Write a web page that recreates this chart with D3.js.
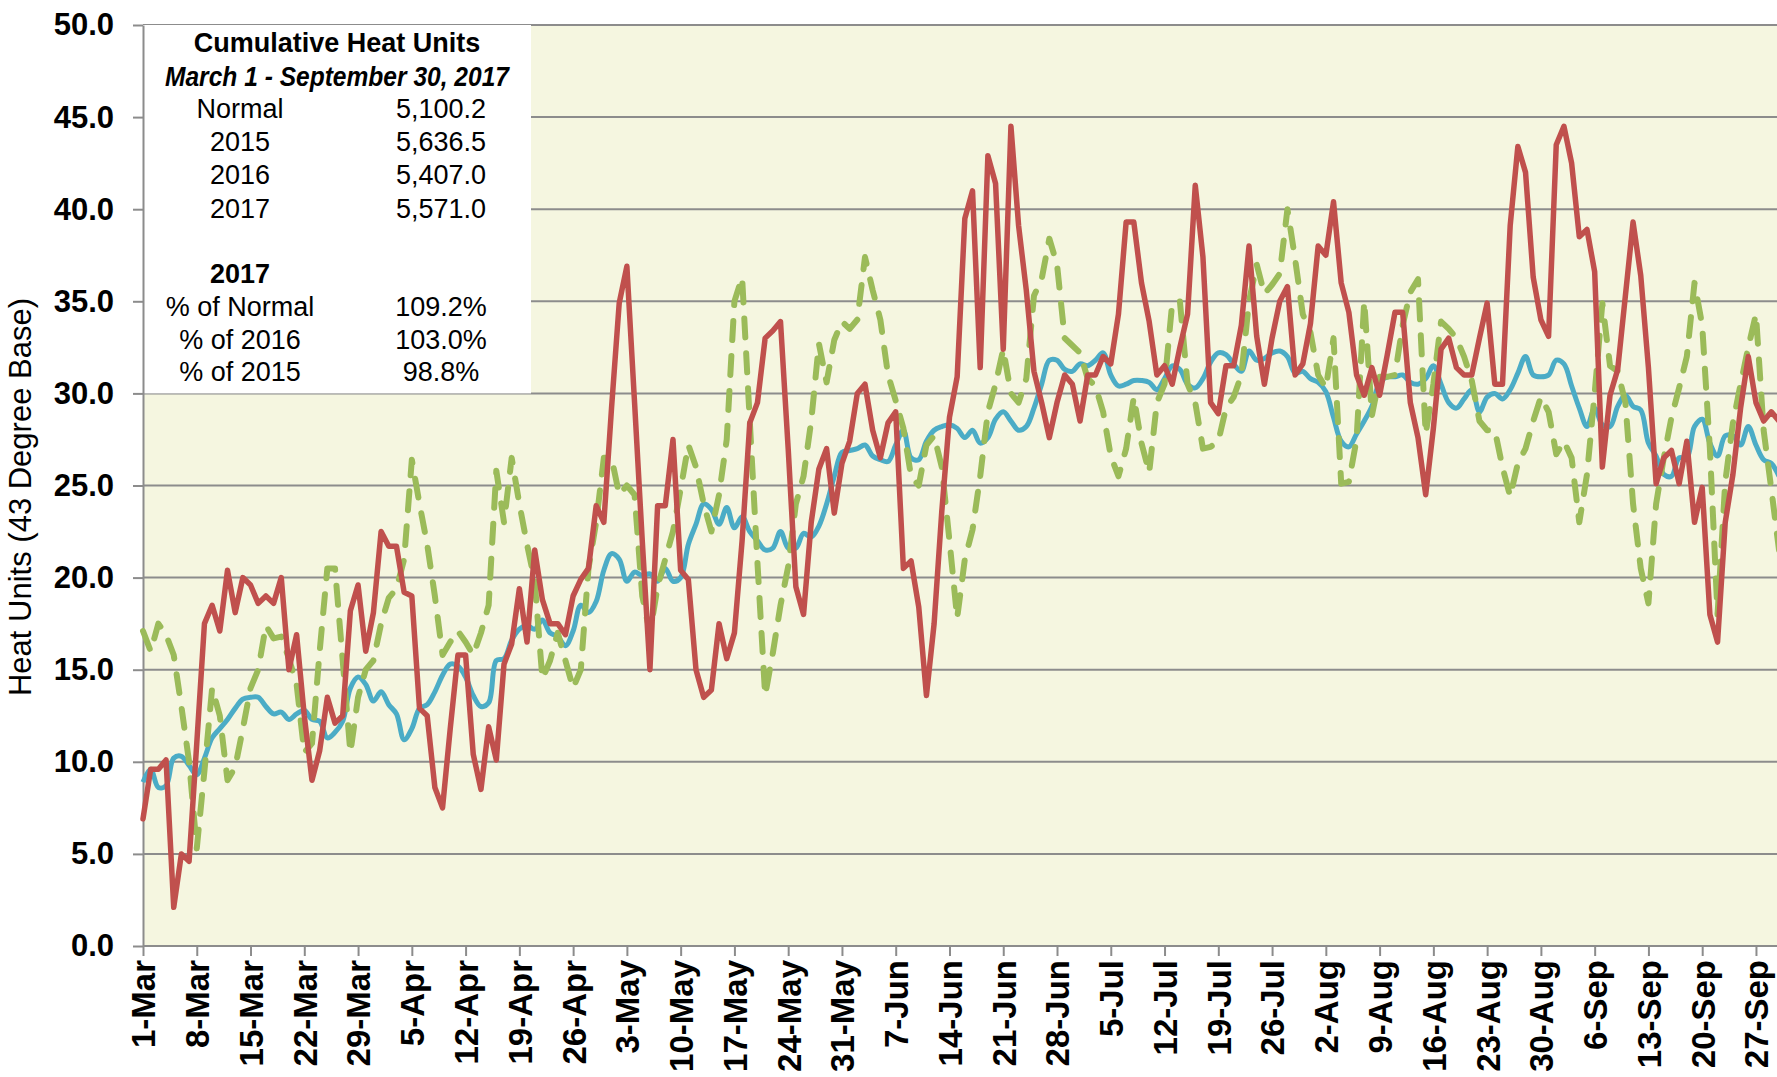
<!DOCTYPE html>
<html>
<head>
<meta charset="utf-8">
<script src="https://cdn.jsdelivr.net/npm/d3@7"></script>
<style>
body {margin:0; background:#fff}
svg {display:block; font-family:"Liberation Sans", Arial, sans-serif}
</style>
</head>
<body>
<svg width="1777" height="1077"></svg>
<script>
/*** Data ***/
var start = new Date(2017, 2, 1)
var end = new Date(2017, 8, 30)
var tickLabels = ["1-Mar","8-Mar","15-Mar","22-Mar","29-Mar","5-Apr","12-Apr","19-Apr","26-Apr","3-May","10-May",
	"17-May","24-May","31-May","7-Jun","14-Jun","21-Jun","28-Jun","5-Jul","12-Jul","19-Jul","26-Jul","2-Aug",
	"9-Aug","16-Aug","23-Aug","30-Aug","6-Sep","13-Sep","20-Sep","27-Sep"]
var yTicks = [0,5,10,15,20,25,30,35,40,45,50]

var normal = [8.9,9.6,8.6,8.7,10.2,10.3,9.8,9.3,10.2,11.3,
	11.8,12.3,12.9,13.4,13.5,13.5,13.0,12.6,12.7,12.3,
	12.6,12.8,12.3,12.2,11.3,11.6,12.2,14.0,14.6,14.2,
	13.3,13.8,13.1,12.6,11.2,11.8,12.9,13.1,13.8,14.7,
	15.3,15.2,14.6,13.6,13.0,13.2,15.5,15.6,16.6,17.2,
	17.4,17.2,17.7,17.0,16.8,16.3,17.1,18.5,18.1,18.7,
	20.4,21.3,21.0,19.8,20.3,20.1,20.2,19.8,20.5,19.8,
	20.0,21.8,22.9,24.0,23.7,22.9,23.8,22.7,23.3,22.5,
	22.0,21.5,21.6,22.5,21.6,21.6,22.4,22.2,22.8,24.0,
	25.5,26.8,26.9,27.0,27.2,26.6,26.4,26.3,27.2,28.0,
	26.5,26.4,27.4,28.0,28.2,28.3,28.1,27.6,28.0,27.3,
	27.6,28.6,29.0,28.5,28.0,28.2,29.2,30.5,31.8,31.8,
	31.3,31.2,31.6,31.5,31.8,32.2,31.0,30.4,30.5,30.7,
	30.7,30.6,30.2,30.8,31.5,31.3,30.5,30.3,30.8,31.7,
	32.2,32.1,31.6,31.2,32.3,31.8,31.9,32.2,32.3,32.0,
	31.1,31.2,30.8,30.6,30.1,28.7,27.4,27.1,27.8,28.5,
	29.3,30.6,30.9,30.9,31.0,30.6,30.5,30.8,31.5,30.5,
	29.5,29.2,29.7,30.2,29.0,29.8,30.0,29.7,30.2,31.1,
	32.0,31.0,30.9,31.0,31.8,31.6,30.4,29.2,28.2,29.2,
	28.3,28.2,29.3,29.9,29.3,29.1,27.3,26.6,25.6,25.5,
	26.5,26.5,28.2,28.6,27.3,26.6,27.7,27.7,27.2,28.2,
	27.2,26.4,26.2,25.5]

var y2016 = [17.1,16.0,17.5,16.9,15.8,13.0,10.0,5.3,9.5,14.0,
	12.5,9.0,9.7,11.8,14.0,15.0,17.4,16.7,16.8,15.6,
	14.2,10.5,11.0,16.0,20.5,20.5,15.5,10.5,13.5,15.0,
	15.5,17.5,18.9,19.4,21.0,26.4,24.0,21.8,19.0,15.8,
	16.5,17.1,16.5,15.8,17.0,18.5,25.8,23.0,26.5,24.0,
	21.8,19.8,14.5,15.5,17.0,15.5,14.0,15.0,20.5,23.0,
	26.5,26.5,24.5,25.0,24.5,19.0,17.0,19.5,21.0,22.5,
	24.8,27.2,26.0,24.0,22.5,24.5,27.5,35.0,36.3,28.5,
	20.8,13.6,15.9,18.5,20.6,24.0,25.5,28.5,32.7,30.6,
	32.9,33.9,33.5,34.0,37.4,35.6,34.0,31.0,29.6,28.1,
	25.5,25.0,27.2,27.7,26.0,22.0,17.8,21.0,22.6,25.5,
	29.0,30.5,32.4,30.0,29.5,30.8,35.3,36.2,38.4,37.0,
	33.0,32.6,32.2,30.8,30.4,29.0,26.6,25.5,27.0,29.8,
	27.3,25.7,29.5,30.5,34.9,35.0,30.5,29.5,27.0,27.1,
	27.4,29.2,29.8,31.0,35.0,37.0,35.4,35.9,36.5,40.0,
	37.3,34.3,33.3,31.0,30.3,33.0,25.1,25.2,27.5,35.0,
	28.8,30.9,30.9,31.0,33.7,35.5,36.2,27.8,30.5,33.9,
	33.5,33.0,32.0,30.7,28.5,28.0,28.0,26.0,24.4,26.2,
	27.0,28.5,29.8,29.0,26.7,27.4,26.5,23.0,25.6,30.0,
	34.9,31.5,31.2,29.5,24.0,20.5,18.6,24.0,26.5,28.7,
	30.3,32.0,36.0,33.7,27.0,18.0,25.2,28.4,30.5,32.5,
	34.3,28.0,24.8,21.5]

var y2017 = [6.9,9.6,9.6,10.1,2.1,5.0,4.6,11.0,17.5,18.5,
	17.1,20.4,18.1,20.0,19.6,18.6,19.0,18.6,20.0,15.0,
	16.9,12.5,9.0,10.6,13.5,12.1,12.5,18.2,19.6,16.0,
	18.1,22.5,21.7,21.7,19.2,19.0,12.9,12.5,8.6,7.5,
	11.8,15.8,15.8,10.4,8.5,11.9,10.1,15.3,16.4,19.4,
	16.5,21.5,18.8,17.5,17.5,16.9,19.0,19.9,20.5,23.9,
	23.0,29.2,34.9,36.9,29.5,22.0,15.0,23.9,23.9,27.5,
	20.4,19.9,15.0,13.5,13.9,17.5,15.6,17.0,22.0,28.4,
	29.5,33.0,33.4,33.9,27.0,19.5,18.0,23.0,25.9,27.0,
	23.5,26.2,27.4,30.0,30.5,28.0,26.5,28.4,29.0,20.5,
	20.9,18.4,13.6,17.5,23.6,28.7,30.9,39.5,41.0,31.4,
	42.9,41.4,32.4,44.5,39.1,35.6,31.2,29.5,27.6,29.5,
	31.0,30.5,28.5,31.0,31.0,32.0,31.6,34.3,39.3,39.3,
	36.0,33.9,31.0,31.5,30.5,32.5,34.3,41.3,37.4,29.5,
	28.9,31.5,31.5,33.7,38.0,33.1,30.5,33.0,35.0,35.8,
	31.0,31.6,33.8,38.0,37.5,40.4,36.0,34.4,31.0,29.9,
	31.4,29.9,32.1,34.4,34.4,29.5,27.6,24.5,28.1,32.4,
	33.0,31.4,31.0,31.0,33.0,34.9,30.5,30.5,39.1,43.4,
	42.0,36.3,34.0,33.1,43.5,44.5,42.5,38.5,38.9,36.6,
	26.0,29.9,31.3,35.3,39.3,36.4,31.4,25.1,26.5,26.9,
	25.1,27.4,23.0,24.9,18.0,16.5,23.0,25.6,29.2,32.0,
	29.5,28.5,29.0,28.5]

var tblTitle = "Cumulative Heat Units"
var tblSub = "March 1 - September 30, 2017"
var tblRows = [["Normal","5,100.2"],["2015","5,636.5"],["2016","5,407.0"],["2017","5,571.0"]]
var pctHead = "2017"
var pctRows = [["% of Normal","109.2%"],["% of 2016","103.0%"],["% of 2015","98.8%"]]

/*** Draw ***/
var m = d3.select("svg")
var W = +m.attr("width")
var L = 143, T = 25, B = 946, R = 1779

var days = d3.timeDay.range(start, d3.timeDay.offset(end, 1))
var tickDates = d3.range(0, days.length, 7).map((i) => days[i])

var x = d3.scaleTime().domain([start, end]).range([L, R])
var y = d3.scaleLinear().domain([0, 50]).range([B, T])

m.append("rect")
 .attr("x", L).attr("y", T)
 .attr("width", R - L).attr("height", B - T)
 .attr("fill", "#f5f6e0")

m.append("g")
 .selectAll("line")
 .data(yTicks.slice(1))
 .enter()
 .append("line")
 .attr("x1", L).attr("x2", W)
 .attr("y1", (d) => y(d)).attr("y2", (d) => y(d))
 .attr("stroke", "#8c8c8c")
 .attr("stroke-width", 2)

// summary table
var t = m.append("g")
t.append("rect")
 .attr("x", L).attr("y", T)
 .attr("width", 531 - L).attr("height", y(30) - T)
 .attr("fill", "#fff")
var c1 = 240, c2 = 441, c0 = 337
t.append("text").text(tblTitle)
 .attr("x", c0).attr("y", 52)
 .attr("font-weight", "bold")
t.append("text").text(tblSub)
 .attr("x", c0).attr("y", 86)
 .attr("font-weight", "bold").attr("font-style", "italic")
 .attr("textLength", 344).attr("lengthAdjust", "spacingAndGlyphs")
tblRows.forEach((r, i) => {
	t.append("text").text(r[0]).attr("x", c1).attr("y", 118 + i * 33.2)
	t.append("text").text(r[1]).attr("x", c2).attr("y", 118 + i * 33.2)
})
t.append("text").text(pctHead)
 .attr("x", c1).attr("y", 283)
 .attr("font-weight", "bold")
pctRows.forEach((r, i) => {
	t.append("text").text(r[0]).attr("x", c1).attr("y", 316 + i * 32.5)
	t.append("text").text(r[1]).attr("x", c2).attr("y", 316 + i * 32.5)
})
t.selectAll("text")
 .attr("text-anchor", "middle")
 .attr("font-size", 27)
 .attr("fill", "#000")

// axes
var ya = m.append("g")
		  .attr("transform", "translate(" + L + ",0)")
		  .call(d3.axisLeft(y).tickValues(yTicks).tickFormat(d3.format(".1f")).tickSize(10).tickSizeOuter(0).tickPadding(19))
var xa = m.append("g")
		  .attr("transform", "translate(0," + B + ")")
		  .call(d3.axisBottom(x).tickValues(tickDates).tickFormat((d, i) => tickLabels[i]).tickSize(10).tickSizeOuter(0))
xa.select(".domain").attr("d", "M" + L + ",0H" + W)
m.selectAll(".domain, .tick line")
 .attr("stroke", "#8c8c8c")
 .attr("stroke-width", 2)
ya.selectAll("text")
  .attr("font-size", 31)
  .attr("font-weight", "bold")
  .attr("font-family", "Liberation Sans, Arial, sans-serif")
  .attr("fill", "#000")
xa.selectAll("text")
  .attr("transform", "rotate(-90)")
  .attr("x", -14).attr("y", 0).attr("dy", "0.36em")
  .attr("text-anchor", "end")
  .attr("font-size", 33)
  .attr("font-weight", "bold")
  .attr("font-family", "Liberation Sans, Arial, sans-serif")
  .attr("fill", "#000")

m.append("text")
 .text("Heat Units (43 Degree Base)")
 .attr("transform", "translate(31,497) rotate(-90)")
 .attr("text-anchor", "middle")
 .attr("font-size", 31)

// series
var ln = d3.line()
		   .x((d, i) => x(days[i]))
		   .y((d) => y(d))
var g = m.append("g")
		 .attr("fill", "none")
		 .attr("stroke-linejoin", "round")
g.append("path")
 .attr("d", ln.curve(d3.curveCatmullRom.alpha(0.5))(normal))
 .attr("stroke", "#4bacc6")
 .attr("stroke-width", 5)
g.append("path")
 .attr("d", ln.curve(d3.curveLinear)(y2016))
 .attr("stroke", "#9bbb59")
 .attr("stroke-width", 6)
 .attr("stroke-linecap", "round")
 .attr("stroke-dasharray", "19,16")
g.append("path")
 .attr("d", ln.curve(d3.curveLinear)(y2017))
 .attr("stroke", "#c0504d")
 .attr("stroke-width", 5.5)
 .attr("stroke-linecap", "round")
</script>
</body>
</html>
